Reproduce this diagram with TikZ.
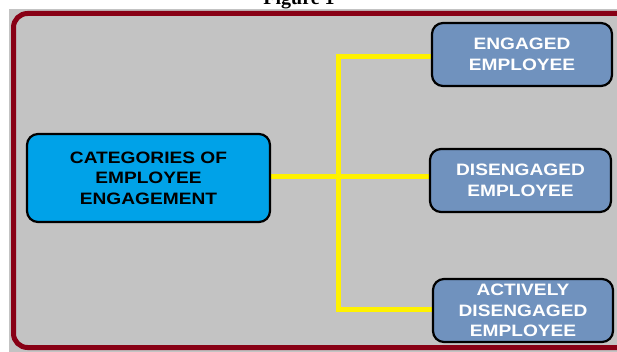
\documentclass[tikz,border=0pt]{standalone}
\usepackage{fontspec}
\setmainfont{Liberation Serif}
\newfontfamily\boxfont[FakeStretch=1.16]{Liberation Sans}
\definecolor{paintgray}{HTML}{C3C3C3}
\definecolor{paintred}{HTML}{880015}
\definecolor{paintcyan}{HTML}{00A2E8}
\definecolor{paintblue}{HTML}{7092BE}
\definecolor{paintyellow}{HTML}{FFF200}
\pgfdeclarelayer{bg}
\pgfdeclarelayer{links}
\pgfsetlayers{bg,links,main}
\tikzset{
  catbox/.style={draw=black, line width=2.2pt, rounded corners=11pt,
    inner sep=0pt, align=center,
    font=\boxfont\bfseries\fontsize{16.5}{20.5}\selectfont},
  rootbox/.style={catbox, fill=paintcyan, text=black,
    minimum width=243pt, minimum height=88pt},
  leafbox/.style={catbox, fill=paintblue, text=white,
    minimum width=180pt, minimum height=63pt},
  link/.style={draw=paintyellow, line width=5pt}
}
\begin{document}
\begin{tikzpicture}[x=1pt, y=-1pt]
\clip (0,0) rectangle (617,352);
\useasboundingbox (0,0) rectangle (617,352);

% caption above the panel
\node[anchor=base, font=\bfseries\fontsize{20}{24}\selectfont, inner sep=0pt]
  (caption) at (299,5) {Figure 1};

% category boxes
\node[rootbox] (root) at (148.5,178) {CATEGORIES OF\\EMPLOYEE\\ENGAGEMENT};
\node[leafbox] (eng) at (522,54.5) {ENGAGED\\EMPLOYEE};
\node[leafbox, minimum width=181pt] (dis) at (520.5,180.5) {DISENGAGED\\EMPLOYEE};
\node[leafbox] (act) at (523,310.5) {ACTIVELY\\DISENGAGED\\EMPLOYEE};

% panel background and frame
\begin{pgfonlayer}{bg}
  \fill[paintgray] (9,9) rectangle (640,360);
  \draw[paintred, line width=5pt, rounded corners=14pt]
    (13.5,13.5) rectangle (660,347.5);
\end{pgfonlayer}

% yellow connectors
\begin{pgfonlayer}{links}
  \coordinate (hub) at (338,176.5);
  \draw[link] (root.east |- hub) -- (dis.west |- hub);
  \draw[link] ([yshift=-2pt]eng.west) -| (hub) |- ([yshift=1.5pt]act.west);
\end{pgfonlayer}
\end{tikzpicture}
\end{document}
